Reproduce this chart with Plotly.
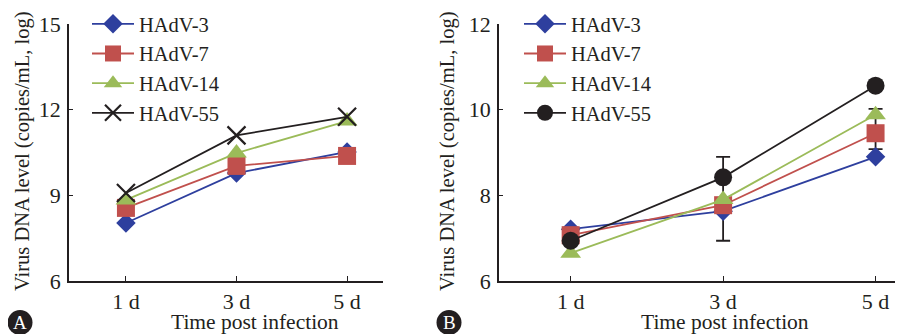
import plotly.graph_objects as go

days = [1, 3, 5]
tick_labels = ["1 d", "3 d", "5 d"]
series_names = ["HAdV-3", "HAdV-7", "HAdV-14", "HAdV-55"]

# Panel A values (log copies/mL)
a_hadv3 = [8.03, 9.78, 10.52]
a_hadv7 = [8.56, 10.03, 10.38]
a_hadv14 = [8.84, 10.48, 11.6]
a_hadv55 = [9.08, 11.1, 11.75]

# Panel B values (log copies/mL)
b_hadv3 = [7.21, 7.63, 8.9]
b_hadv7 = [7.07, 7.77, 9.45]
b_hadv14 = [6.65, 7.9, 9.88]
b_hadv55 = [6.94, 8.42, 10.56]

# Panel B error bars (black), centre and half-length
b_err_x = [3, 5]
b_err_center = [7.92, 9.55]
b_err_half = [0.98, 0.47]

colors = ["#2e3f9e", "#c0504d", "#9bbb59", "#231f20"]
FONT = "Liberation Serif"
TXT = "#231f20"

# The page body has an 8px margin: the figure is sized so that it ends at the window edge
OFF = 8
W, H = 903 - OFF, 334 - OFF


def px(x):
    return (x - OFF) / W


def py(y):
    return (H - (y - OFF)) / H


fig = go.Figure()

a_vals = [a_hadv3, a_hadv7, a_hadv14, a_hadv55]
b_vals = [b_hadv3, b_hadv7, b_hadv14, b_hadv55]
a_symbols = ["diamond", "square", "triangle-up", "x-thin"]
a_sizes = [15, 18, 18, 18]
b_symbols = ["diamond", "square", "triangle-up", "circle"]
b_sizes = [15, 18, 18, 18]

for i, name in enumerate(series_names):
    if a_symbols[i] == "x-thin":
        marker = dict(symbol="x-thin", size=a_sizes[i], color=colors[i],
                      line=dict(width=2.2, color=colors[i]))
    else:
        marker = dict(symbol=a_symbols[i], size=a_sizes[i], color=colors[i], line=dict(width=0))
    fig.add_trace(go.Scatter(
        x=days, y=a_vals[i], name=name, mode="lines+markers",
        line=dict(color=colors[i], width=1.8), marker=marker,
        xaxis="x", yaxis="y", legend="legend"))

# error bars for panel B (drawn beneath the markers)
fig.add_trace(go.Scatter(
    x=b_err_x, y=b_err_center, mode="markers", showlegend=False,
    marker=dict(size=1, color="rgba(0,0,0,0)"),
    error_y=dict(type="data", array=b_err_half, visible=True, color="#231f20",
                 thickness=1.8, width=7),
    xaxis="x2", yaxis="y2", hoverinfo="skip"))

for i, name in enumerate(series_names):
    fig.add_trace(go.Scatter(
        x=days, y=b_vals[i], name=name, mode="lines+markers",
        line=dict(color=colors[i], width=1.8),
        marker=dict(symbol=b_symbols[i], size=b_sizes[i], color=colors[i], line=dict(width=0)),
        xaxis="x2", yaxis="y2", legend="legend2"))

ydom = [py(281), py(24)]

axis_common = dict(
    showgrid=False, zeroline=False, showline=True, linecolor="#231f20", linewidth=1.5,
    tickfont=dict(family=FONT, size=22, color=TXT), tickcolor="#231f20", tickwidth=1.2,
    automargin=False,
)

legend_common = dict(
    y=1 + 4 / H, xanchor="left", yanchor="top", bgcolor="rgba(0,0,0,0)",
    font=dict(family=FONT, size=20.5, color=TXT), itemsizing="trace",
    tracegroupgap=0, itemwidth=42,
)

fig.update_layout(
    width=W, height=H, margin=dict(l=0, r=0, t=0, b=0, pad=0, autoexpand=False),
    paper_bgcolor="white", plot_bgcolor="white",
    font=dict(family=FONT, size=20, color=TXT),
    xaxis=dict(domain=[px(69), px(383)], range=[-0.03, 5.65], tickmode="array",
               tickvals=days, ticktext=tick_labels, ticks="inside", ticklen=5,
               anchor="y", **axis_common),
    yaxis=dict(domain=ydom, range=[6, 15], tickvals=[6, 9, 12, 15], ticks="inside",
               ticklen=4, anchor="x", ticklabelstandoff=2, **axis_common),
    xaxis2=dict(domain=[px(499), 1.0], range=[0.06, 5.36], tickmode="array",
                tickvals=days, ticktext=tick_labels, ticks="inside", ticklen=5,
                anchor="y2", **axis_common),
    yaxis2=dict(domain=ydom, range=[6, 12], tickvals=[6, 8, 10, 12], ticks="inside",
                ticklen=4, anchor="x2", ticklabelstandoff=2, **axis_common),
    legend=dict(x=px(87), **legend_common),
    legend2=dict(x=px(519), **legend_common),
    showlegend=True,
)

ann = [
    dict(text="Virus DNA level (copies/mL, log)", x=px(22), y=py(152), textangle=-90, size=20.5),
    dict(text="Virus DNA level (copies/mL, log)", x=px(447), y=py(152), textangle=-90, size=20.5),
    dict(text="Time post infection", x=px(255), y=py(322), textangle=0, size=21.5),
    dict(text="Time post infection", x=px(725), y=py(322), textangle=0, size=21.5),
]
for a in ann:
    fig.add_annotation(xref="paper", yref="paper", showarrow=False,
                       xanchor="center", yanchor="middle", text=a["text"],
                       x=a["x"], y=a["y"], textangle=a["textangle"],
                       font=dict(family=FONT, size=a["size"], color=TXT))

# circled panel labels
for cx, lab in [(20, "A"), (449, "B")]:
    fig.add_shape(type="circle", xref="paper", yref="paper",
                  x0=px(cx - 12.5), x1=px(cx + 12.5),
                  y0=py(335), y1=py(310),
                  fillcolor="#231f20", line=dict(width=0))
    fig.add_annotation(text=lab, xref="paper", yref="paper", x=px(cx), y=py(322.5),
                       showarrow=False, xanchor="center", yanchor="middle",
                       font=dict(family=FONT, size=19, color="white"))

fig.write_html("out.html")
